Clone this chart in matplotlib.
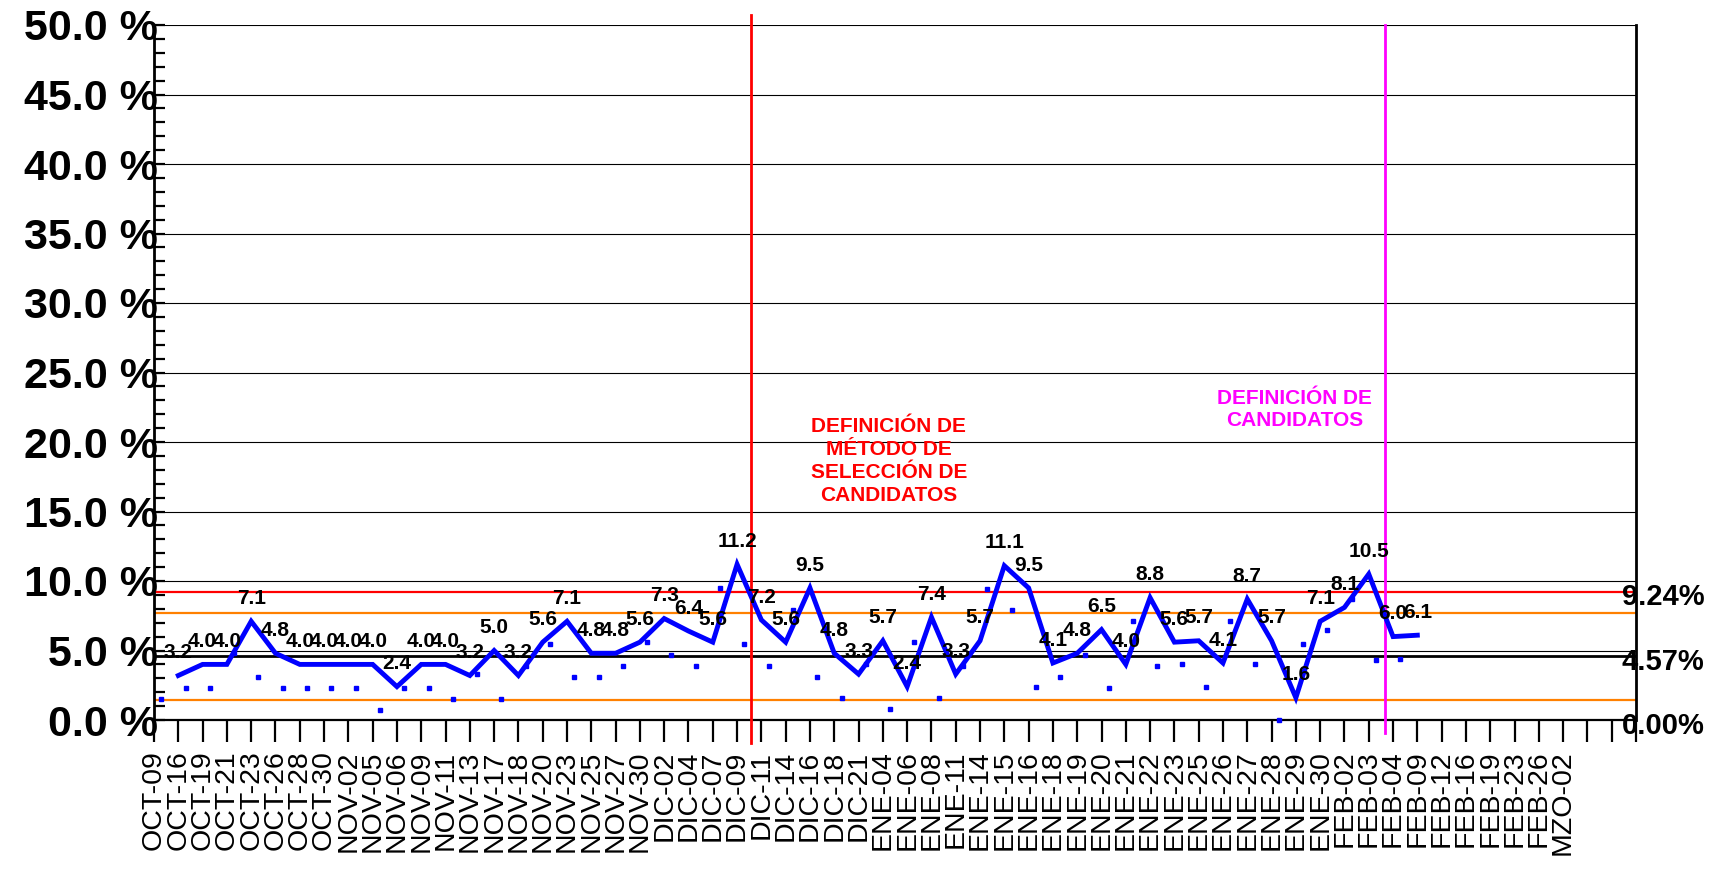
import numpy as np
import matplotlib
matplotlib.use("Agg")
import matplotlib.pyplot as plt
from matplotlib.ticker import MultipleLocator

plt.rcParams['font.family'] = ['Liberation Sans', 'DejaVu Sans']

# categorias del eje x (fechas)
fechas = ["OCT-09", "OCT-16", "OCT-19", "OCT-21", "OCT-23", "OCT-26", "OCT-28", "OCT-30",
          "NOV-02", "NOV-05", "NOV-06", "NOV-09", "NOV-11", "NOV-13", "NOV-17", "NOV-18",
          "NOV-20", "NOV-23", "NOV-25", "NOV-27", "NOV-30",
          "DIC-02", "DIC-04", "DIC-07", "DIC-09", "DIC-11", "DIC-14", "DIC-16", "DIC-18", "DIC-21",
          "ENE-04", "ENE-06", "ENE-08", "ENE-11", "ENE-14", "ENE-15", "ENE-16", "ENE-18", "ENE-19",
          "ENE-20", "ENE-21", "ENE-22", "ENE-23", "ENE-25", "ENE-26", "ENE-27", "ENE-28", "ENE-29",
          "ENE-30",
          "FEB-02", "FEB-03", "FEB-04", "FEB-09", "FEB-12", "FEB-16", "FEB-19", "FEB-23", "FEB-26",
          "MZO-02", "", "", ""]

# porcentaje (linea azul), empieza en OCT-16
porcentaje = [3.2, 4.0, 4.0, 7.1, 4.8, 4.0, 4.0, 4.0, 4.0, 2.4, 4.0, 4.0, 3.2, 5.0, 3.2,
              5.6, 7.1, 4.8, 4.8, 5.6, 7.3, 6.4, 5.6, 11.2, 7.2, 5.6, 9.5, 4.8, 3.3, 5.7,
              2.4, 7.4, 3.3, 5.7, 11.1, 9.5, 4.1, 4.8, 6.5, 4.0, 8.8, 5.6, 5.7, 4.1, 8.7,
              5.7, 1.6, 7.1, 8.1, 10.5, 6.0, 6.1]

# serie de puntos
puntos = [1.5, 2.3, 2.3, 4.8, 3.1, 2.3, 2.3, 2.3, 2.3, 0.7, 2.3, 2.3, 1.5, 3.3, 1.5,
          3.9, 5.5, 3.1, 3.1, 3.9, 5.6, 4.7, 3.9, 9.5, 5.5, 3.9, 7.9, 3.1, 1.6, 4.0,
          0.8, 5.6, 1.6, 3.9, 9.4, 7.9, 2.4, 3.1, 4.7, 2.3, 7.1, 3.9, 4.0, 2.4, 7.1,
          4.0, 0.0, 5.5, 6.5, 8.7, 4.3, 4.4]

# limites de control
lsc = 9.24
media = 4.57
lic = 0.00
aviso_sup = 7.68
aviso_inf = 1.46

# eventos (posicion en el eje de categorias)
evento_metodo = 24.57
evento_candidatos = 50.66

fig = plt.figure(figsize=(17.32, 8.75), dpi=100)
ax = fig.add_axes([154 / 1732, 1 - 720 / 875, 1482 / 1732, 695 / 875])

ax.set_xlim(0, len(fechas) - 1)
ax.set_ylim(0, 50)

# rejilla
ax.yaxis.set_major_locator(MultipleLocator(5))
ax.yaxis.set_minor_locator(MultipleLocator(1))
ax.grid(axis='y', which='major', color='black', linewidth=0.8, zorder=1)
ax.set_axisbelow(True)

# lineas de control
ax.axhline(lsc, color='#FF0000', linewidth=1.6, zorder=2)
ax.axhline(aviso_sup, color='#FF8000', linewidth=1.6, zorder=2)
ax.axhline(aviso_inf, color='#FF8000', linewidth=1.6, zorder=2)
ax.axhline(media, color='black', linewidth=2.0, zorder=2)

# lineas verticales de eventos
ax.axvline(evento_metodo, ymin=-0.033, ymax=1.0144, color='#FF0000', linewidth=2.0,
           clip_on=False, zorder=3)
ax.axvline(evento_candidatos, ymin=-0.019, ymax=1.0, color='#FF00FF', linewidth=2.0,
           clip_on=False, zorder=3)

# series
x_linea = np.arange(1, len(porcentaje) + 1)
x_puntos = np.arange(len(puntos)) + 0.3
ax.plot(x_puntos, puntos, linestyle='none', marker='s', markersize=3.4,
        color='#0000FF', clip_on=False, zorder=4)
ax.plot(x_linea, porcentaje, color='#0000FF', linewidth=3.5,
        solid_joinstyle='miter', zorder=5)

for x, v in zip(x_linea, porcentaje):
    ax.annotate(f"{v:.1f}", (x, v), xytext=(0, 16.5), textcoords='offset points',
                ha='center', va='center', fontsize=15, fontweight='bold', zorder=6)

# etiquetas de limites a la derecha
for v in [lsc, media, lic]:
    ax.annotate(f"{v:.2f}%", (0.9905, v), xycoords=('axes fraction', 'data'),
                xytext=(0, -4), textcoords='offset points',
                ha='left', va='center', fontsize=21, fontweight='bold',
                annotation_clip=False, zorder=7)

# textos de eventos
ax.text(30.25, 18.63, "DEFINICIÓN DE\nMÉTODO DE\nSELECCIÓN DE\nCANDIDATOS",
        color='#FF0000', fontsize=15, fontweight='bold', ha='center', va='center',
        linespacing=1.25, zorder=6)
ax.text(46.95, 22.34, "DEFINICIÓN DE\nCANDIDATOS",
        color='#FF00FF', fontsize=15, fontweight='bold', ha='center', va='center',
        linespacing=1.25, zorder=6)

# ejes
ax.set_xticks(np.arange(len(fechas)))
ax.set_xticklabels(fechas, rotation=90, fontsize=20.5)
ax.tick_params(axis='x', direction='out', length=16, width=1.6, pad=6)

yt = np.arange(0, 51, 5)
ax.set_yticks(yt)
ax.set_yticklabels([f"{v:.1f} %" for v in yt], fontsize=31, fontweight='bold')
ax.tick_params(axis='y', which='both', direction='in', length=8, width=1.6, pad=-3)

for s in ['left', 'right']:
    ax.spines[s].set_linewidth(2.0)
ax.spines['bottom'].set_linewidth(1.6)
ax.spines['top'].set_visible(False)

fig.savefig("out.png", dpi=100)
